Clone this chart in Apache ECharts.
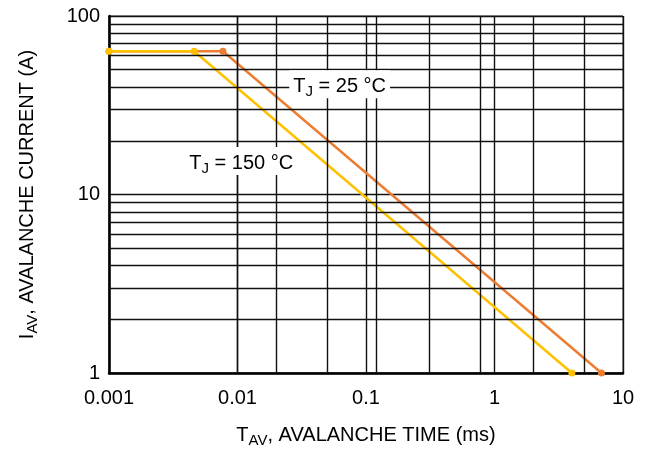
<!DOCTYPE html>
<html lang="en">
  <head>
    <meta charset="UTF-8" />
    <title>avalanche current</title>
    <style>
      body, html {
        margin: 0;
        width: 100%;
        height: 100%;
        background: #fff;
      }
    </style>
  </head>
  <body>
    <div id="main" style="width:647px;height:449px;"></div>

    <script src="https://cdn.jsdelivr.net/npm/echarts@6/dist/echarts.min.js"></script>
    <script>
      // avalanche time (ms) vs avalanche current (A)
      const tj25Time = [0.001, 0.0077, 6.8];
      const tj25Current = [63.5, 63.5, 1];
      const tj150Time = [0.001, 0.0046, 4.0];
      const tj150Current = [63.5, 63.5, 1];

      // grid lines as in the datasheet (x ones are not the usual 2..9)
      const xGridLines = [0.00126, 0.00317, 0.0079, 0.02, 0.05, 0.123, 0.31, 0.77, 2, 5];
      const yGridLines = [2, 3, 4, 5, 6, 7, 8, 9, 20, 30, 40, 50, 60, 70, 80, 90];

      const FONT = 'Liberation Sans, Arial, sans-serif';

      // main text + subscript
      const rich = {
        m: { fontSize: 20, fontFamily: FONT, color: '#000', lineHeight: 24, verticalAlign: 'bottom' },
        s: { fontSize: 15, fontFamily: FONT, color: '#000', lineHeight: 15, verticalAlign: 'bottom', padding: [0, 0, -3, 0] },
      };

      function draw() {
        const myChart = echarts.init(document.getElementById('main'));

        const toPairs = (xs, ys) => xs.map((x, i) => [x, ys[i]]);
        const gridLine = { color: '#111', width: 1.4, type: 'solid' };

        const option = {
          backgroundColor: '#fff',
          animation: false,
          grid: {
            left: 109,
            right: 24,
            top: 16,
            bottom: 76,
            outerBoundsMode: 'none',
            containLabel: false,
            show: true,
            borderColor: '#333',
            borderWidth: 1,
          },
          xAxis: {
            type: 'log',
            logBase: 10,
            min: 0.001,
            max: 10,
            name: '{m|T}{s|AV}{m|, AVALANCHE TIME (ms)}',
            nameLocation: 'middle',
            nameGap: 48,
            nameTextStyle: { rich },
            axisLine: { show: true, lineStyle: { color: '#000', width: 2.5 } },
            axisTick: { show: false },
            axisLabel: {
              fontSize: 20,
              fontFamily: FONT,
              color: '#000',
              margin: 15,
              formatter: v => String(+v.toPrecision(6)),
            },
            splitLine: { show: true, lineStyle: gridLine },
          },
          yAxis: {
            type: 'log',
            logBase: 10,
            min: 1,
            max: 100,
            name: '{m|I}{s|AV}{m|, AVALANCHE CURRENT (A)}',
            nameLocation: 'middle',
            nameGap: 72,
            nameTextStyle: { rich },
            axisLine: { show: true, lineStyle: { color: '#000', width: 2.5 } },
            axisTick: { show: false },
            axisLabel: {
              fontSize: 20,
              fontFamily: FONT,
              color: '#000',
              margin: 9,
              formatter: v => String(+v.toPrecision(6)),
            },
            splitLine: { show: true, lineStyle: gridLine },
          },
          series: [
            {
              name: 'grid',
              type: 'line',
              data: [],
              z: 1,
              silent: true,
              markLine: {
                silent: true,
                symbol: 'none',
                animation: false,
                label: { show: false },
                lineStyle: gridLine,
                data: [
                  ...xGridLines.map(v => ({ xAxis: v })),
                  ...yGridLines.map(v => ({ yAxis: v })),
                ],
              },
            },
            {
              name: 'TJ = 25 °C',
              type: 'line',
              z: 3,
              data: toPairs(tj25Time, tj25Current),
              symbol: 'circle',
              symbolSize: 7,
              lineStyle: { color: '#ED7D31', width: 2.5 },
              itemStyle: { color: '#ED7D31' },
              markPoint: {
                symbol: 'rect',
                symbolSize: 0,
                data: [
                  {
                    coord: [0.0624, 41.5],
                    label: {
                      show: true,
                      position: 'inside',
                      formatter: '{m|T}{s|J}{m| = 25 °C}',
                      backgroundColor: '#fff',
                      padding: [2, 4, 2, 4],
                      rich,
                    },
                  },
                ],
              },
            },
            {
              name: 'TJ = 150 °C',
              type: 'line',
              z: 4,
              data: toPairs(tj150Time, tj150Current),
              symbol: 'circle',
              symbolSize: 7,
              lineStyle: { color: '#FFC000', width: 2.5 },
              itemStyle: { color: '#FFC000' },
              markPoint: {
                symbol: 'rect',
                symbolSize: 0,
                data: [
                  {
                    coord: [0.0107, 15.4],
                    label: {
                      show: true,
                      position: 'inside',
                      formatter: '{m|T}{s|J}{m| = 150 °C}',
                      backgroundColor: '#fff',
                      padding: [2, 4, 2, 4],
                      rich,
                    },
                  },
                ],
              },
            },
          ],
        };

        myChart.setOption(option);
      }

      draw();
    </script>
  </body>
</html>
